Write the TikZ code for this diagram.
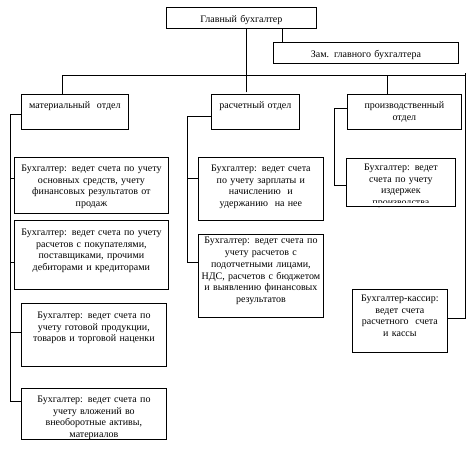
\documentclass[tikz,border=0pt]{standalone}
\usepackage{fontspec}
\setmainfont{Liberation Serif}
\usetikzlibrary{calc}

\begin{document}
\begin{tikzpicture}[x=1pt, y=-1pt,
    box/.style={rectangle, draw, line width=0.8pt, inner sep=0pt, anchor=north west,
      align=center, font=\fontsize{10}{11.7}\selectfont},
    ln/.style={line width=0.8pt, line cap=rect}
  ]
  \useasboundingbox (0,0) rectangle (468,450);

  % top level
  \node[box, text width=150pt, text height=15pt, text depth=6pt]  (main) at (166,7)  {Главный бухгалтер};
  \node[box, text width=185pt, text height=15pt, text depth=6pt]  (zam)  at (273,42) {Зам. главного бухгалтера};

  % departments
  \node[box, text width=107pt, text height=14pt, text depth=21pt] (mat) at (21,94)  {материальный\ \ отдел};
  \node[box, text width=88pt,  text height=14pt, text depth=21pt] (ras) at (211,94) {расчетный отдел};
  \node[box, text width=114pt, text height=14pt, text depth=21pt] (pro) at (347,94) {производственный\\отдел};

  % accountants
  \node[box, text width=154pt, text height=14pt, text depth=42pt] (mat1) at (14,157)
    {Бухгалтер: ведет счета по учету\\основных средств, учету\\финансовых результатов от\\продаж};
  \node[box, text width=154pt, text height=15pt, text depth=54pt] (mat2) at (14,220)
    {Бухгалтер: ведет счета по учету\\расчетов с покупателями,\\поставщиками, прочими\\дебиторами и кредиторами};
  \node[box, text width=145pt, text height=15pt, text depth=48pt] (mat3) at (21,303)
    {Бухгалтер: ведет счета по\\учету готовой продукции,\\товаров и торговой наценки};
  \node[box, text width=145pt, text height=14pt, text depth=37pt] (mat4) at (21,388)
    {Бухгалтер: ведет счета по\\учету вложений во\\внеоборотные активы,\\материалов};
  \node[box, text width=125pt, text height=14pt, text depth=49pt] (ras1) at (198,157)
    {Бухгалтер: ведет счета\\по учету зарплаты и\\начислению\ \ и\\удержанию\ \ на нее};
  \node[box, text width=125pt, text height=9.5pt, text depth=73.5pt] (ras2) at (198,234)
    {Бухгалтер: ведет счета по\\учету расчетов с\\подотчетными лицами,\\НДС, расчетов с бюджетом\\и выявлению финансовых\\результатов};
  \node[box, text width=109pt, text height=12pt, text depth=36pt] (pro1) at (346,158)
    {Бухгалтер: ведет\\счета по учету\\издержек\\производства};
  \fill[white] ([xshift=0.5pt,yshift=0.5pt]pro1.south west) rectangle ([xshift=-0.5pt,yshift=4pt]pro1.south east);
  \node[box, text width=95pt, text height=12pt, text depth=51pt] (kas) at (352,289)
    {Бухгалтер-кассир:\\ведет счета\\расчетного\ \ счета\\и кассы};

  % main links
  \coordinate (mz) at ([xshift=41pt]main.south);
  \draw[ln] (mz) -- (mz |- zam.north);
  \draw[ln] ([xshift=5pt]main.south) -- ([xshift=-9pt,yshift=2pt]ras.north);

  \coordinate (busl) at (62,75);
  \coordinate (busp) at (387,75);
  \coordinate (busr) at (465,73);
  \draw[ln] (busl) -- (busr |- busl);
  \draw[ln] (busl) -- (busl |- mat.north);
  \draw[ln] (busp) -- (busp |- pro.north);
  \draw[ln] (busr) |- ([yshift=3pt]kas.east);

  % department buses
  \draw[ln] (10,114) -- (10,401);
  \foreach \n/\y in {mat/114, mat1/178, mat2/262, mat3/332, mat4/401}
    \draw[ln] (\n.west |- 0,\y) -- (10,\y);
  \draw[ln] (187,116) -- (187,262);
  \foreach \n/\y in {ras/116, ras1/178, ras2/262}
    \draw[ln] (\n.west |- 0,\y) -- (187,\y);
  \draw[ln] (334,108) -- (334,185);
  \foreach \n/\y in {pro/108, pro1/185}
    \draw[ln] (\n.west |- 0,\y) -- (334,\y);
\end{tikzpicture}
\end{document}
